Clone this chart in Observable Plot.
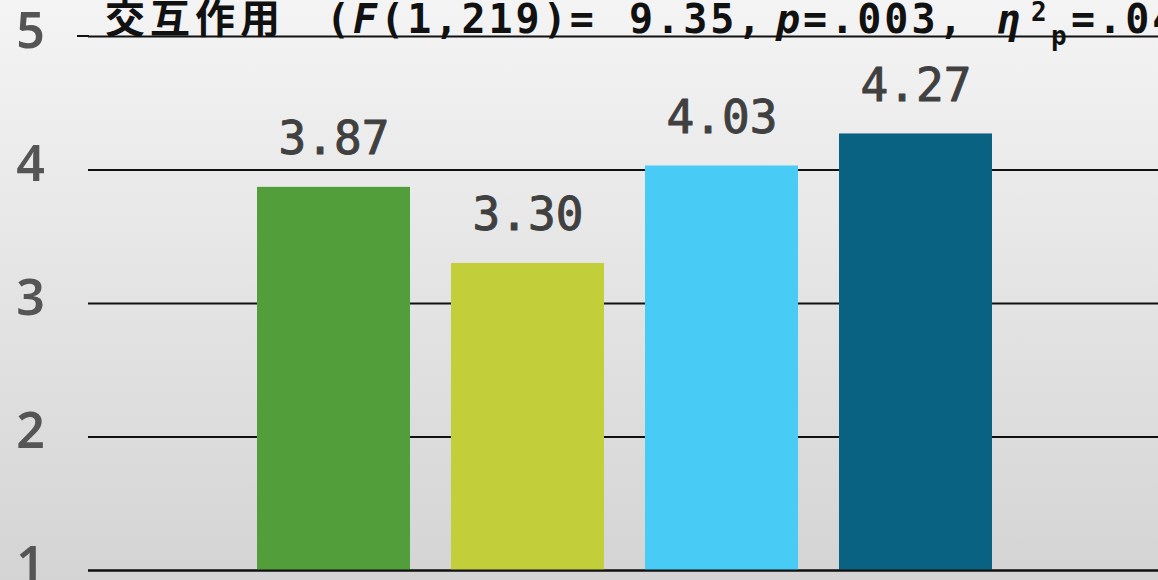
<!DOCTYPE html>
<html>
<head>
<meta charset="utf-8">
<script src="https://cdn.jsdelivr.net/npm/d3@7"></script>
<script src="https://cdn.jsdelivr.net/npm/@observablehq/plot@0.6"></script>
<style>
  html, body { margin: 0; padding: 0; width: 1158px; height: 580px; overflow: hidden; }
  body { background: linear-gradient(#f4f4f4, #d4d4d4); }
  #wrap { position: relative; width: 1158px; height: 580px; }
  #title { position: absolute; left: 0; top: 0; overflow: visible; }
  #title text { font-weight: bold; fill: #111; }
  .cjk { font-family: "Noto Sans CJK JP", sans-serif; font-size: 40px; letter-spacing: 5px; }
  .lat { font-family: "DejaVu Sans Mono", monospace; font-size: 40px; letter-spacing: 3px; }
  .sm { font-family: "DejaVu Sans Mono", monospace; font-size: 26px; }
  #uline { position: absolute; left: 77px; top: 35px; width: 12px; height: 2px; background: #111; }
  svg g[aria-label="y-axis tick label"] text { font-weight: 600; }
</style>
</head>
<body>
<div id="wrap">
  <div id="chart"></div>
  <div id="uline"></div>
  <svg id="title" width="1158" height="60">
    <text y="33"><tspan class="cjk" x="105">交互作用</tspan><tspan class="lat" x="326">(<tspan font-style="italic">F</tspan>(1,219)=</tspan><tspan class="lat" x="629">9.35,</tspan><tspan class="lat" x="776" font-style="italic">p</tspan><tspan class="lat">=.003,</tspan><tspan class="lat" x="996" font-style="italic" font-size="44">η</tspan><tspan class="sm" x="1031" dy="-12">2</tspan><tspan class="sm" x="1051" dy="24">p</tspan><tspan class="lat" x="1071" dy="-12">=.04)</tspan></text>
  </svg>
</div>
<script>
const conditions = ["条件1", "条件2", "条件3", "条件4"];
const means = [3.87, 3.30, 4.03, 4.27];
const valueLabels = ["3.87", "3.30", "4.03", "4.27"];
const barColors = ["#529e3a", "#c2cf3b", "#48ccf5", "#0a6282"];
const yTicks = [1, 2, 3, 4, 5];

const data = conditions.map((c, i) => ({cond: c, mean: means[i], label: valueLabels[i]}));

const chart = Plot.plot({
  width: 1158,
  height: 580,
  marginLeft: 88,
  marginRight: 0,
  marginTop: 36,
  marginBottom: 10,
  style: {background: "transparent", fontFamily: "'Noto Sans', sans-serif", overflow: "visible"},
  x: {domain: conditions, range: [235.5, 1014.5], paddingInner: 0.21, paddingOuter: 0.105, axis: null},
  y: {domain: [1, 5], axis: null},
  color: {domain: conditions, range: barColors},
  marks: [
    Plot.ruleY(yTicks, {stroke: "#111", strokeWidth: 2}),
    Plot.barY(data, {x: "cond", y1: 1, y2: "mean", fill: "cond"}),
    Plot.ruleY([1], {stroke: "#111", strokeWidth: 2}),
    Plot.text(data, {x: "cond", y: "mean", text: "label", dy: -33, lineAnchor: "bottom",
      fontSize: 46, fontWeight: "normal", fill: "#404040", stroke: "#404040", strokeWidth: 1,
      fontFamily: "'DejaVu Sans Mono', monospace"}),
    Plot.axisY({ticks: yTicks, tickSize: 0, tickPadding: 58, textAnchor: "middle", label: null,
      fontSize: 50, fill: "#555", dy: -5, tickFormat: d => String(d)})
  ]
});
document.getElementById("chart").appendChild(chart);
</script>
</body>
</html>
